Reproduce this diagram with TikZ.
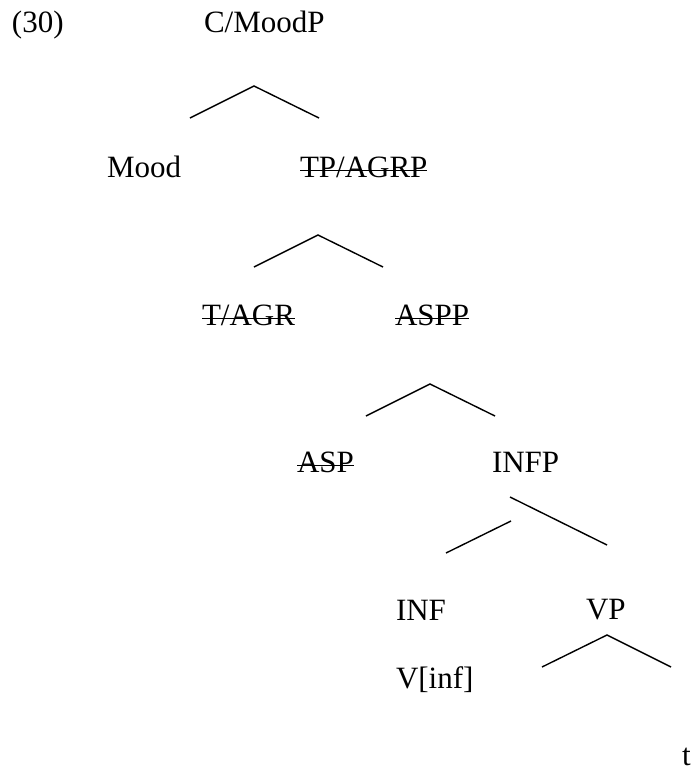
\documentclass[tikz,border=0pt]{standalone}
\usepackage{fontspec}
\setmainfont{Liberation Serif}
\begin{document}
\begin{tikzpicture}[x=1pt,y=-1pt,
  lbl/.style={anchor=base west,inner sep=0pt,outer sep=0pt,
              font=\fontsize{31}{36}\selectfont},
  branch/.style={line width=1.4pt,line cap=butt},
  strike/.style={line width=1.4pt}]
\useasboundingbox (0,0) rectangle (693,769);

% labels
\node[lbl] (ex)    at (12,32)  {(30)};
\node[lbl] (cp)    at (204,32) {C/MoodP};
\node[lbl] (mood)  at (107,177) {Mood};
\node[lbl] (tp)    at (300,177) {TP/AGRP};
\node[lbl] (t)     at (202,325) {T/AGR};
\node[lbl] (aspp)  at (395,325) {ASPP};
\node[lbl] (asp)   at (297,472) {ASP};
\node[lbl] (infp)  at (492,472) {INFP};
\node[lbl] (inf)   at (396,620) {INF};
\node[lbl] (vp)    at (586,619) {VP};
\node[lbl] (vinf)  at (396,688) {V[inf]};
\node[lbl] (trace) at (682,765) {t};

% struck-out heads
\foreach \n in {tp,t,aspp,asp}
  \draw[strike] ([yshift=6.5pt]\n.base west) -- ([yshift=6.5pt]\n.base east);

% branch points
\coordinate (a1) at (254,86);  \coordinate (l1) at (190,118); \coordinate (r1) at (319,118);
\coordinate (a2) at (318,235); \coordinate (l2) at (254,267); \coordinate (r2) at (383,267);
\coordinate (a3) at (430,384); \coordinate (l3) at (366,416); \coordinate (r3) at (495,416);
\coordinate (a4) at (510,497); \coordinate (r4) at (607,545);
\coordinate (a5) at (511,521); \coordinate (l5) at (446,553);
\coordinate (a6) at (607,635); \coordinate (l6) at (542,667); \coordinate (r6) at (671,667);

% branches
\draw[branch] (l1) -- (a1) -- (r1);
\draw[branch] (l2) -- (a2) -- (r2);
\draw[branch] (l3) -- (a3) -- (r3);
\draw[branch] (a4) -- (r4);
\draw[branch] (a5) -- (l5);
\draw[branch] (l6) -- (a6) -- (r6);
\end{tikzpicture}
\end{document}
